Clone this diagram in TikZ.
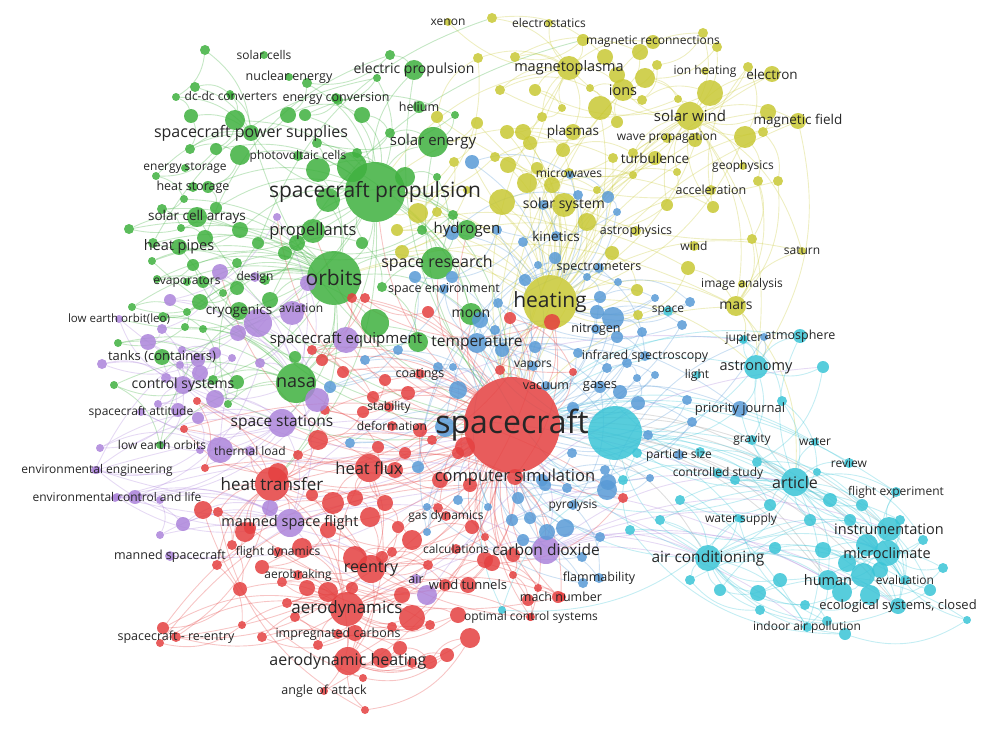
\documentclass[tikz,border=0pt]{standalone}
\usepackage{fontspec}
\setmainfont{Open Sans}
\usetikzlibrary{positioning}
\pgfdeclarelayer{edges}
\pgfsetlayers{edges,main}

\definecolor{vr}{RGB}{228,64,64}
\definecolor{vg}{RGB}{62,176,62}
\definecolor{vb}{RGB}{88,154,214}
\definecolor{vy}{RGB}{200,200,52}
\definecolor{vp}{RGB}{172,132,218}
\definecolor{vc}{RGB}{58,196,214}
\definecolor{vgr}{RGB}{150,150,150}

\tikzset{
  kw/.style={circle, inner sep=0pt, draw=none, fill=#1, fill opacity=0.85},
  lbl/.style={inner sep=0pt, text=black!85},
  link/.style={draw=#1, draw opacity=0.3, line width=0.9pt}
}

% labelled keywords: name/colour/x/y/radius/font size/text
\def\kwlist{
  sc/vr/512/425/48/32/spacecraft,
  cyb/vc/615/433/27/12/{},
  sp/vg/375/192/30/21/spacecraft propulsion,
  heat/vy/550/302/27/21/heating,
  orb/vg/334/278/27/21/orbits,
  nasa/vg/296/383/20/18/nasa,
  ht/vr/272/484/17/17/heat transfer,
  aero/vr/347/609/17/17/aerodynamics,
  hf/vr/369/468/14/16.5/heat flux,
  csim/vr/515/477/8/16.5/computer simulation,
  se/vg/433/142/15/15/solar energy,
  sr/vg/437/263/16/16/space research,
  prop/vg/313/231/12/16.5/propellants,
  spps/vg/251/133/8/16/spacecraft power supplies,
  ep/vg/414/70/10/14/electric propulsion,
  mp/vy/569/68/12/14.5/magnetoplasma,
  ions/vy/623/90/11/14.5/ions,
  sw/vy/690/116/14/15/solar wind,
  elec/vy/772/74/8/13.5/electron,
  mf/vy/798/121/8/13.5/magnetic field,
  pla/vy/573/132/8/13.5/plasmas,
  turb/vy/655/158/7/13.5/turbulence,
  ssys/vy/564/205/12/14/solar system,
  kin/vb/556/236/5/13.5/kinetics,
  mars/vy/736/306/10/14/mars,
  ast/vc/756/367/12/14.5/astronomy,
  art/vc/795/482/14/16/article,
  ac/vc/708/558/13/15.5/air conditioning,
  inst/vc/889/529/12/14.5/instrumentation,
  mc/vc/887/553/13/14.5/microclimate,
  hum/vc/828/580/10/14.5/human,
  eco/vc/898/606/8/13/{ecological systems, closed},
  cd/vp/546/550/14/15.5/carbon dioxide,
  re/vr/371/569/14/16/reentry,
  ah/vr/348/661/14/16/aerodynamic heating,
  msf/vp/290/523/14/14.5/manned space flight,
  ss/vp/282/423/14/15.5/space stations,
  tl/vp/250/451/5/12/thermal load,
  cs/vp/183/385/9/14/control systems,
  speq/vp/346/340/13/15/spacecraft equipment,
  temp/vb/477/343/10/15.5/temperature,
  moon/vg/471/314/11/14/moon,
  hyd/vg/467/230/10/15/hydrogen,
  hp/vg/179/247/8/14.5/heat pipes,
  sca/vg/197/217/10/13.5/solar cell arrays,
  cryo/vg/239/311/9/13.5/cryogenics,
  tanks/vg/162/357/8/13/tanks (containers),
  wt/vr/468/585/8/13/wind tunnels,
  pyr/vb/573/505/5/12/pyrolysis,
  gas/vb/600/387/6/13/gases,
  pj/vb/740/409/8/13/priority journal,
  xen/vy/448/22/4/12/xenon,
  estat/vy/549/23/4/12/electrostatics,
  mrec/vy/653/42/7/12/magnetic reconnections,
  ionh/vy/705/71/4/12/ion heating,
  wprop/vy/667/138/5/12/wave propagation,
  geo/vy/743/166/4/12/geophysics,
  mw/vy/569/173/5/12/microwaves,
  acc/vy/711/190/5/12.5/acceleration,
  astp/vy/636/231/5/12.5/astrophysics,
  wind/vy/694/246/5/12/wind,
  sat/vy/802/251/4/12/saturn,
  ima/vy/742/284/4/12/image analysis,
  spec/vb/599/268/5/12.5/spectrometers,
  nit/vb/596/329/5/12.5/nitrogen,
  space/vc/668/311/5/12/space,
  vap/vb/533/366/5/12/vapors,
  irs/vb/645/356/5/12.5/infrared spectroscopy,
  light/vc/697/375/4/12/light,
  vac/vb/546/386/5/12.5/vacuum,
  psize/vb/679/455/5/12/particle size,
  cstudy/vc/718/473/5/12/controlled study,
  jup/vc/744/339/4/12/jupiter,
  atm/vc/800/336/7/12.5/atmosphere,
  grav/vc/752/440/5/12/gravity,
  water/vc/815/442/4/12/water,
  rev/vc/849/463/5/12/review,
  fexp/vc/896/492/5/12/flight experiment,
  wsup/vc/741/519/4/12/water supply,
  eval/vc/905/580/5/12/evaluation,
  iap/vc/807/627/5/12/indoor air pollution,
  flam/vb/599/578/5/12.5/flammability,
  mach/vr/561/597/5/12.5/mach number,
  ocs/vr/531/617/4/12/optimal control systems,
  gdyn/vr/446/516/5/12/gas dynamics,
  calc/vr/456/549/5/12/calculations,
  air/vp/416/579/5/12.5/air,
  aerob/vr/298/575/5/12/aerobraking,
  fdyn/vr/278/552/5/12/flight dynamics,
  ic/vr/338/634/5/12.5/impregnated carbons,
  aoa/vr/324/691/4/12.5/angle of attack,
  sre/vr/176/637/5/12.5/spacecraft - re-entry,
  mscr/vp/170/556/5/12.5/manned spacecraft,
  ecl/vp/117/497/4/12/environmental control and life,
  eeng/vp/97/470/4/12/environmental engineering,
  leos/vp/162/445/4/12/low earth orbits,
  satt/vp/141/412/4/12/spacecraft attitude,
  leo/vp/119/319/4/11.5/low earth orbit(leo),
  evap/vg/187/282/4/12/evaporators,
  design/vp/255/277/5/12/design,
  avi/vp/301/308/5/12/aviation,
  senv/vb/444/289/5/12.5/space environment,
  coat/vr/420/374/5/12.5/coatings,
  stab/vr/389/407/5/12/stability,
  deform/vr/392/426/5/12/deformation,
  solc/vg/264/55/4/12/solar cells,
  nuc/vg/289/77/4/12.5/nuclear energy,
  dcdc/vg/231/96/4/12/dc-dc converters,
  econv/vg/336/98/5/12.5/energy conversion,
  hel/vg/419/107/6/12.5/helium,
  pv/vg/298/156/5/12/photovoltaic cells,
  estor/vg/185/168/4/12/energy storage,
  hstor/vg/193/187/5/12.5/heat storage}

% unlabelled keywords: colour/x/y/radius/linked keyword
\def\dotlist{
  vg/205/50/5/spps, vg/195/87/5/spps, vg/176/97/4/spps, vg/230/94/4/spps,
  vg/191/116/7/spps, vg/235/120/10/sp, vg/190/149/5/spps, vg/216/149/6/sp,
  vg/240/155/10/sp, vg/156/176/4/spps, vg/208/187/6/sp, vg/184/199/4/orb,
  vg/216/208/6/sp, vg/162/209/5/orb, vg/129/229/5/orb, vg/181/228/4/orb,
  vg/240/230/8/sp, vg/205/238/8/orb, vg/153/243/5/orb, vg/390/55/5/ep,
  vg/377/78/4/sp, vg/307/83/5/sp, vg/338/100/5/sp, vg/288/115/8/spps,
  vg/305/115/6/sp, vg/362/115/8/sp, vg/455/115/4/se, vg/390/133/5/se,
  vg/317/143/5/sp, vg/357/153/5/sp, vg/318/170/12/orb, vg/352/167/15/sc,
  vg/405/177/10/sc, vg/328/200/12/orb, vg/437/177/4/sr, vg/453/215/5/sr,
  vg/422/230/5/sr, vg/285/253/7/orb, vg/297/243/8/sp, vg/362/243/6/sp,
  vg/265/280/5/orb, vg/382/287/5/sr, vg/375/323/14/sc, vg/418/342/10/sr,
  vg/295/357/6/nasa, vg/152/261/4/orb, vg/193/265/6/orb, vg/237/263/5/orb,
  vg/157/279/4/orb, vg/203/282/6/orb, vg/223/293/4/orb, vg/237/288/7/orb,
  vg/132/307/4/orb, vg/200/302/8/orb, vg/187/312/4/orb, vg/163/317/5/nasa,
  vg/185/327/4/nasa, vg/203/329/4/nasa, vg/118/343/4/nasa, vg/213/380/5/nasa,
  vg/237/382/7/nasa, vg/114/385/4/nasa, vg/228/404/4/nasa, vg/160/445/4/nasa,
  vg/258/243/6/orb, vg/270/300/8/orb,
  vy/492/18/5/mp, vy/583/40/6/mp, vy/605/57/8/mp, vy/515/57/5/mp,
  vy/617/75/8/ions, vy/640/52/8/ions, vy/703/33/5/sw, vy/717/47/5/sw,
  vy/657/65/5/ions, vy/645/78/10/sw, vy/642/100/5/ions, vy/678/99/4/sw,
  vy/710/93/13/heat, vy/500/90/5/mp, vy/535/90/6/mp, vy/590/88/4/ions,
  vy/562/108/4/mp, vy/600/108/12/heat, vy/542/117/5/mp, vy/617/122/6/ions,
  vy/507/132/7/heat, vy/523/132/8/heat, vy/530/143/7/heat, vy/563/150/7/heat,
  vy/495/157/5/sp, vy/633/153/5/sw, vy/613/158/5/heat, vy/695/140/7/sw,
  vy/508/165/8/heat, vy/537/168/6/heat, vy/527/183/10/heat, vy/552/185/8/heat,
  vy/597/190/4/heat, vy/633/175/4/sw, vy/677/172/4/sw, vy/502/202/13/heat,
  vy/667/205/6/sw, vy/713/207/6/sw, vy/587/222/9/heat, vy/748/67/5/sw,
  vy/768/112/8/sw, vy/745/137/11/heat, vy/763/132/5/sw, vy/758/181/5/mars,
  vy/778/181/5/mars, vy/752/239/5/mars, vy/437/117/6/se, vy/477/123/6/se,
  vy/478/58/5/mp, vy/454/162/5/sp, vy/418/213/10/sp, vy/437/212/5/heat,
  vy/467/190/4/heat, vy/397/230/6/heat, vy/402/252/7/heat, vy/612/253/7/heat,
  vy/688/268/7/mars, vy/637/290/6/heat, vy/638/315/5/heat,
  vb/472/162/7/heat, vb/452/233/7/heat, vb/570/175/4/heat, vb/578/195/5/heat,
  vb/608/197/6/heat, vb/543/205/5/heat, vb/617/212/4/heat, vb/523/242/5/sc,
  vb/497/230/5/sc, vb/415/277/6/sc, vb/452/277/6/sc, vb/398/350/5/sc,
  vb/365/360/5/sc, vb/330/387/6/sc, vb/438/367/5/sc, vb/458/390/9/sc,
  vb/453/367/4/sc, vb/350/443/5/sc, vb/445/427/10/sc, vb/418/467/6/sc,
  vb/555/258/6/heat, vb/538/265/4/heat, vb/525/280/6/heat, vb/587/277/4/heat,
  vb/618/282/4/heat, vb/600/297/6/sc, vb/690/302/5/heat, vb/655/298/4/heat,
  vb/613/318/11/sc, vb/597/312/7/sc, vb/642/332/5/sc, vb/682/325/5/sc,
  vb/617/337/6/sc, vb/498/303/5/sc, vb/495/330/5/sc, vb/535/347/6/sc,
  vb/502/350/7/sc, vb/578/353/5/sc, vb/607/368/5/sc, vb/627/363/5/sc,
  vb/655/375/4/sc, vb/637/378/4/sc, vb/620/392/7/sc, vb/638/403/7/sc,
  vb/687/400/5/sc, vb/573/408/6/sc, vb/648/435/5/sc, vb/692/422/5/sc,
  vb/572/453/5/sc, vb/605/470/5/sc, vb/542/480/6/sc, vb/608/482/8/sc,
  vb/650/478/4/sc, vb/764/337/4/ast, vb/607/490/10/sc, vb/518/498/6/sc,
  vb/545/485/6/sc, vb/567/488/5/sc, vb/512/520/6/sc, vb/530/518/6/sc,
  vb/547/532/8/sc, vb/565/528/9/sc, vb/600/537/5/sc, vb/523/540/6/sc,
  vb/582/557/5/sc, vb/583/583/5/sc, vb/427/507/4/sc, vb/458/500/5/sc,
  vb/427/532/4/sc, vb/488/507/4/sc, vb/480/320/8/sc,
  vr/510/318/6/sc, vr/500/370/5/sc, vr/573/372/4/sc, vr/552/322/8/sc,
  vr/428/312/6/sc, vr/352/298/5/sc, vr/365/298/5/sc, vr/322/360/6/sc,
  vr/312/350/5/sc, vr/343/372/6/sc, vr/373/397/6/sc, vr/385/380/6/sc,
  vr/408/393/7/sc, vr/363/412/6/sc, vr/325/410/5/sc, vr/318/440/10/ht,
  vr/378/447/6/hf, vr/405/453/6/hf, vr/298/455/5/ht, vr/432/440/5/sc,
  vr/458/453/6/sc, vr/465/447/10/sc, vr/278/473/10/ht, vr/197/401/4/ht,
  vr/184/429/4/ht, vr/205/468/4/ht, vr/623/498/5/sc, vr/513/555/7/sc,
  vr/492/563/8/sc, vr/513/575/4/sc, vr/538/588/4/sc, vr/528/600/6/sc,
  vr/558/597/6/sc, vr/530/617/4/sc, vr/250/528/6/ht, vr/312/495/6/ht,
  vr/333/503/11/hf, vr/355/498/8/hf, vr/385/503/8/hf, vr/370/517/10/re,
  vr/398/527/6/re, vr/412/540/10/re, vr/438/508/5/sc, vr/472/527/7/sc,
  vr/485/537/4/sc, vr/328/530/8/re, vr/302/548/10/aero, vr/262/567/7/aero,
  vr/355/558/12/re, vr/382/557/6/re, vr/392/552/5/re, vr/445/585/6/re,
  vr/428/565/5/re, vr/485/560/8/sc, vr/402/595/8/aero, vr/352/588/6/aero,
  vr/328/592/10/aero, vr/307/588/8/aero, vr/282/582/5/aero, vr/287/603/5/aero,
  vr/412/618/13/aero, vr/430/625/5/aero, vr/458/615/8/aero, vr/392/627/5/aero,
  vr/355/633/8/aero, vr/295/617/5/aero, vr/262/637/5/aero, vr/318/645/5/aero,
  vr/382/658/10/ah, vr/400/648/7/ah, vr/412/663/5/ah, vr/430/662/7/ah,
  vr/447/655/7/ah, vr/470/638/10/ah, vr/363/678/4/ah, vr/365/710/4/ah,
  vr/203/510/9/ht, vr/218/512/5/ht, vr/245/532/10/ht, vr/232/545/5/ht,
  vr/217/565/5/ht, vr/240/589/7/aero, vr/242/625/4/aero, vr/163/628/6/aero,
  vr/160/643/4/aero, vr/440/480/8/sc, vr/470/485/7/sc, vr/420/430/7/sc,
  vr/395/470/8/hf,
  vp/277/217/4/nasa, vp/220/272/8/nasa, vp/170/300/6/nasa, vp/162/329/5/cs,
  vp/238/333/8/nasa, vp/148/342/8/cs, vp/182/350/4/cs, vp/198/360/7/cs,
  vp/215/353/6/cs, vp/232/358/4/cs, vp/102/364/5/cs, vp/180/365/4/cs,
  vp/166/378/5/cs, vp/200/373/8/cs, vp/215/399/9/ss, vp/158/404/4/cs,
  vp/178/410/7/cs, vp/198/418/6/ss, vp/100/448/4/ss, vp/200/450/4/ss,
  vp/220/450/13/ss, vp/95/470/4/ss, vp/308/283/8/nasa, vp/292/313/12/nasa,
  vp/258/323/14/nasa, vp/260/363/5/nasa, vp/317/400/12/ss, vp/135/497/7/msf,
  vp/115/498/4/msf, vp/160/500/4/msf, vp/183/524/7/msf, vp/160/535/4/msf,
  vp/270/508/8/msf, vp/427/595/10/msf,
  vc/743/340/4/ast, vc/823/367/6/ast, vc/782/401/5/art, vc/757/462/5/art,
  vc/817/472/4/art, vc/862/505/6/art, vc/923/540/5/mc, vc/867/545/11/mc,
  vc/823/550/8/mc, vc/775/548/6/ac, vc/847/563/9/mc, vc/863/575/12/mc,
  vc/943/568/5/mc, vc/842/592/10/mc, vc/870/595/10/mc, vc/758/593/8/ac,
  vc/805/605/5/ac, vc/967/620/4/mc, vc/827/621/5/ac, vc/845/634/6/ac,
  vc/738/518/4/ac, vc/630/530/5/ac, vc/502/610/4/sc, vc/637/453/5/cyb,
  vc/623/480/5/cyb, vc/700/452/5/art, vc/735/480/5/art, vc/770/505/6/art,
  vc/810/520/6/art, vc/680/500/5/ac, vc/660/520/5/ac, vc/830/500/7/art,
  vc/900/520/5/mc, vc/930/590/6/mc, vc/780/580/7/ac, vc/760/610/5/ac,
  vc/720/590/6/ac, vc/690/580/5/ac, vc/850/520/6/art, vc/880/570/8/mc}

% links between labelled keywords: from/to/colour
\def\linklist{
  sc/sp/vr, sc/heat/vy, sc/orb/vr, sc/nasa/vr, sc/ht/vr, sc/aero/vr, sc/hf/vr,
  sc/csim/vr, sc/se/vg, sc/sr/vr, sc/prop/vr, sc/cyb/vc, sc/art/vgr, sc/ac/vgr,
  sc/ast/vc, sc/cd/vp, sc/re/vr, sc/ah/vr, sc/msf/vr, sc/ss/vr, sc/temp/vb,
  sc/moon/vr, sc/hyd/vr, sc/spps/vg, sc/ep/vg, sc/mp/vy, sc/sw/vy, sc/ions/vy,
  sc/mars/vy, sc/pj/vb, sc/inst/vgr, sc/mc/vgr, sc/hum/vgr, sc/eco/vgr,
  sc/tl/vr, sc/cs/vp, sc/speq/vr, sc/wt/vr, sc/ssys/vy, sc/gas/vb, sc/pla/vy,
  sc/turb/vy, sc/tanks/vg, sc/cryo/vg, sc/hp/vg, sc/sca/vg, sc/mscr/vp,
  sc/sre/vr, sc/aoa/vr, sc/ecl/vp, sc/eeng/vp, sc/leo/vp, sc/satt/vp,
  sc/iap/vc, sc/eval/vc, sc/fexp/vc, sc/wsup/vc, sc/grav/vc, sc/water/vc,
  sc/rev/vc, sc/atm/vc, sc/jup/vc, sc/elec/vy, sc/mf/vy,
  sp/orb/vg, sp/se/vg, sp/prop/vg, sp/spps/vg, sp/ep/vg, sp/sr/vg, sp/hyd/vg,
  sp/nasa/vg, sp/heat/vy, sp/hp/vg, sp/sca/vg, sp/cryo/vg, sp/tanks/vg,
  sp/moon/vg, sp/mp/vy, sp/pla/vy, sp/ht/vg, sp/temp/vg,
  orb/nasa/vg, orb/sr/vg, orb/moon/vg, orb/ss/vg, orb/ht/vg, orb/cs/vg,
  orb/leo/vg, orb/mars/vy, orb/heat/vy,
  heat/sw/vy, heat/mp/vy, heat/ions/vy, heat/pla/vy, heat/ssys/vy,
  heat/mars/vy, heat/turb/vy, heat/ht/vr, heat/hf/vr, heat/aero/vr,
  heat/temp/vb, heat/sat/vy, heat/ast/vy, heat/elec/vy, heat/mf/vy,
  heat/acc/vy, heat/csim/vr,
  sw/mf/vy, sw/elec/vy, sw/mp/vy, sw/ions/vy, sw/mars/vy, sw/geo/vy,
  sw/acc/vy, sw/ast/vy, sw/sat/vy, mp/ions/vy, mp/pla/vy, mp/estat/vy,
  mp/xen/vy, mp/mrec/vy, mars/sat/vy, mars/ast/vy, mars/jup/vy, mf/ast/vy,
  mars/art/vy,
  ht/hf/vr, ht/aero/vr, ht/re/vr, ht/msf/vr, ht/tl/vr, ht/ah/vr, ht/csim/vr,
  ht/sre/vr, aero/re/vr, aero/ah/vr, aero/wt/vr, aero/aoa/vr, aero/ic/vr,
  aero/mach/vr, aero/ocs/vr, aero/hf/vr, aero/sre/vr, re/ah/vr, re/wt/vr,
  re/csim/vr, re/aerob/vr, re/fdyn/vr, re/mach/vr, re/sre/vr, hf/csim/vr,
  hf/ah/vr, hf/re/vr, csim/wt/vr, csim/cd/vr, csim/ocs/vr, csim/mach/vr,
  nasa/ss/vp, nasa/cs/vp, nasa/msf/vp, nasa/speq/vg, ss/cs/vp, ss/msf/vp,
  ss/tl/vp, ss/eeng/vp, ss/ecl/vp, ss/leos/vp, ss/satt/vp, msf/mscr/vp,
  msf/ecl/vp, msf/eeng/vp, msf/cd/vp, cs/satt/vp, cs/leo/vp, cs/leos/vp,
  cs/tanks/vp, cd/ac/vp, cd/mc/vp, cd/hum/vp, cd/inst/vp, cd/eco/vp,
  cd/iap/vp, cd/art/vp, ecl/ac/vp, eeng/mc/vp, msf/hum/vp, air/ac/vp,
  air/art/vp,
  art/ac/vc, art/mc/vc, art/inst/vc, art/hum/vc, art/eco/vc, art/ast/vc,
  art/pj/vc, art/cyb/vc, art/grav/vc, art/water/vc, art/rev/vc, art/fexp/vc,
  art/eval/vc, art/iap/vc, art/wsup/vc, art/cstudy/vc, art/atm/vc,
  art/temp/vc, art/gas/vc, art/csim/vc, ac/mc/vc, ac/inst/vc, ac/hum/vc,
  ac/eco/vc, ac/iap/vc, ac/cyb/vc, ac/wsup/vc, ac/eval/vc, ac/temp/vc,
  ac/csim/vc, mc/inst/vc, mc/hum/vc, mc/eco/vc, mc/eval/vc, mc/fexp/vc,
  hum/eco/vc, hum/iap/vc, inst/fexp/vc, inst/eco/vc, inst/eval/vc,
  ast/atm/vc, ast/jup/vc, ast/pj/vc, ast/grav/vc, ast/cyb/vc, pj/cyb/vc,
  cyb/temp/vc, cyb/hum/vgr, cyb/mc/vc, cyb/inst/vc, cyb/eco/vc, cyb/eval/vc,
  temp/gas/vb, temp/vac/vb, temp/nit/vb, temp/kin/vb, temp/senv/vb,
  temp/spec/vb, temp/pj/vb, gas/pyr/vb, gas/irs/vb, pyr/flam/vb, cd/flam/vb,
  kin/ssys/vb, spec/irs/vb, nit/irs/vb, temp/cyb/vb}

\begin{document}
\begin{tikzpicture}[x=1pt, y=-1pt]
\useasboundingbox (0,0) rectangle (985,730);

% circles
\foreach \n/\col/\x/\y/\rad/\fs/\lab in \kwlist
  \node[kw=\col, minimum size=2*\rad] (\n) at (\x,\y) {};
\foreach[count=\i] \col/\x/\y/\rad/\h in \dotlist {
  \node[kw=\col, minimum size=2*\rad] (d\i) at (\x,\y) {};
  \xdef\ndots{\i}
}

% links
\begin{pgfonlayer}{edges}
  \foreach \a/\b/\col in \linklist
    \draw[link=\col] (\a) to[bend left=22] (\b);
  \foreach[count=\i] \col/\x/\y/\rad/\h in \dotlist {
    \draw[link=\col] (d\i) to[bend left=22] (\h);
    \pgfmathtruncatemacro\j{\i+2}
    \ifnum\j>\ndots\else
      \draw[link=\col] (d\i) to[bend left=25] (d\j);
    \fi
  }
\end{pgfonlayer}

% labels
\foreach \n/\col/\x/\y/\rad/\fs/\lab in \kwlist
  \node[lbl, font=\fontsize{\fs}{\fs}\selectfont] at (\n) {\lab};

\end{tikzpicture}
\end{document}
